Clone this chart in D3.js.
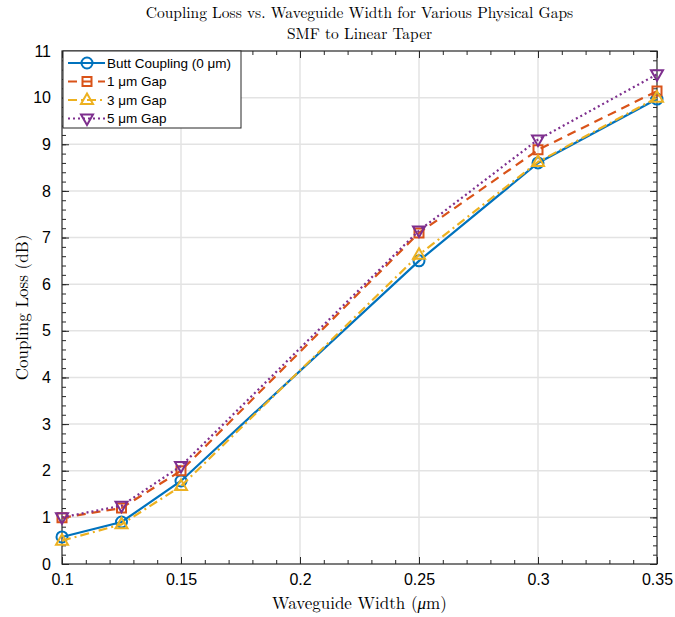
<!DOCTYPE html>
<html>
<head>
<meta charset="utf-8">
<script src="https://cdn.jsdelivr.net/npm/d3@7"></script>
<style>
body { margin: 0; background: #fff; }
svg text { fill: #000; }
</style>
</head>
<body>
<div id="canvas"></div>
<script>
// data
var widths = [0.1, 0.125, 0.15, 0.25, 0.3, 0.35];
var buttLoss = [0.58, 0.90, 1.78, 6.50, 8.60, 9.97];
var gap1Loss = [0.99, 1.20, 2.00, 7.10, 8.88, 10.14];
var gap3Loss = [0.50, 0.85, 1.67, 6.63, 8.62, 10.00];
var gap5Loss = [1.00, 1.25, 2.10, 7.15, 9.10, 10.50];
var seriesNames = ["Butt Coupling (0 \u03bcm)", "1 \u03bcm Gap", "3 \u03bcm Gap", "5 \u03bcm Gap"];
var xTicks = [0.1, 0.15, 0.2, 0.25, 0.3, 0.35];
var yTicks = [0, 1, 2, 3, 4, 5, 6, 7, 8, 9, 10, 11];

var series = [
	{ name: seriesNames[0], values: buttLoss, color: "#0072BD", dash: null, marker: "circle" },
	{ name: seriesNames[1], values: gap1Loss, color: "#D95319", dash: "9,6", marker: "square" },
	{ name: seriesNames[2], values: gap3Loss, color: "#EDB120", dash: "9,4,2,4", marker: "triangle" },
	{ name: seriesNames[3], values: gap5Loss, color: "#7E2F8E", dash: "2,3", marker: "triangleDown" }
];

var W = 675, H = 617;
var margin = {top: 51, right: 18, bottom: 53, left: 62};
var width = W - margin.left - margin.right,
	height = H - margin.top - margin.bottom;

var svg = d3.select("#canvas").append("svg")
	.attr("width", W)
	.attr("height", H),
	g = svg.append("g")
	.attr("transform", "translate(" + margin.left + "," + margin.top + ")");

var x = d3.scaleLinear().domain([0.1, 0.35]).range([0, width]);
var y = d3.scaleLinear().domain([0, 11]).range([height, 0]);

// grid
g.append("g").selectAll("line").data(xTicks.slice(1, -1)).enter().append("line")
	.attr("x1", function(d) { return x(d); }).attr("x2", function(d) { return x(d); })
	.attr("y1", 0).attr("y2", height)
	.attr("stroke", "#e3e3e3").attr("stroke-width", 1.5);
g.append("g").selectAll("line").data(yTicks.slice(1, -1)).enter().append("line")
	.attr("y1", function(d) { return y(d); }).attr("y2", function(d) { return y(d); })
	.attr("x1", 0).attr("x2", width)
	.attr("stroke", "#e3e3e3").attr("stroke-width", 1.5);

// axes with inward ticks
var xMinor = d3.range(0.1, 0.3501, 0.01);
var yMinor = d3.range(0, 11.001, 0.2);

function addAxis(axis, tr, labels) {
	var a = g.append("g").attr("transform", tr).call(axis);
	a.select(".domain").remove();
	a.selectAll("line").attr("stroke", "#262626").attr("stroke-width", 1);
	a.selectAll("text").style("font-family", "'Liberation Sans', Arial, sans-serif")
		.style("font-size", "16px").attr("fill", "#262626");
	if (!labels) a.selectAll("text").remove();
	return a;
}

addAxis(d3.axisBottom(x).tickValues(xMinor).tickSize(-4).tickFormat(""), "translate(0," + height + ")", false);
addAxis(d3.axisTop(x).tickValues(xMinor).tickSize(-4).tickFormat(""), "translate(0,0)", false);
addAxis(d3.axisLeft(y).tickValues(yMinor).tickSize(-4).tickFormat(""), "translate(0,0)", false);
addAxis(d3.axisRight(y).tickValues(yMinor).tickSize(-4).tickFormat(""), "translate(" + width + ",0)", false);

addAxis(d3.axisBottom(x).tickValues(xTicks).tickSize(-7).tickPadding(10)
	.tickFormat(function(d) { return String(+d.toFixed(2)); }), "translate(0," + height + ")", true);
addAxis(d3.axisTop(x).tickValues(xTicks).tickSize(-7).tickFormat(""), "translate(0,0)", false);
addAxis(d3.axisLeft(y).tickValues(yTicks).tickSize(-7).tickPadding(11).tickFormat(d3.format("d")), "translate(0,0)", true);
addAxis(d3.axisRight(y).tickValues(yTicks).tickSize(-7).tickFormat(""), "translate(" + width + ",0)", false);

g.append("rect").attr("width", width).attr("height", height)
	.attr("fill", "none").attr("stroke", "#262626").attr("stroke-width", 1.2);

// lines
var line = d3.line()
	.x(function(d, i) { return x(widths[i]); })
	.y(function(d) { return y(d); });

function markerPath(type) {
	if (type === "square") return "M-4.5,-4.5H4.5V4.5H-4.5Z";
	if (type === "triangle") return "M0,-6.5L6,4L-6,4Z";
	if (type === "triangleDown") return "M0,6.5L6,-4L-6,-4Z";
	return null;
}

function drawMarker(sel, s) {
	if (s.marker === "circle") {
		sel.append("circle").attr("r", 5.5)
			.attr("fill", "none").attr("stroke", s.color).attr("stroke-width", 2);
	} else {
		sel.append("path").attr("d", markerPath(s.marker))
			.attr("fill", "none").attr("stroke", s.color).attr("stroke-width", 2);
	}
}

series.forEach(function(s) {
	g.append("path")
		.datum(s.values)
		.attr("d", line)
		.attr("fill", "none")
		.attr("stroke", s.color)
		.attr("stroke-width", 2.2)
		.attr("stroke-dasharray", s.dash);
	s.values.forEach(function(v, i) {
		var m = g.append("g").attr("transform", "translate(" + x(widths[i]) + "," + y(v) + ")");
		drawMarker(m, s);
	});
});

// legend
var lg = g.append("g").attr("transform", "translate(1,0)");
lg.append("rect").attr("width", 178).attr("height", 77)
	.attr("fill", "#fff").attr("stroke", "#262626").attr("stroke-width", 1);
series.forEach(function(s, i) {
	var row = lg.append("g").attr("transform", "translate(0," + (12 + i * 18.5) + ")");
	row.append("line").attr("x1", 5).attr("x2", 42).attr("y1", 0).attr("y2", 0)
		.attr("stroke", s.color).attr("stroke-width", 2.2).attr("stroke-dasharray", s.dash);
	var m = row.append("g").attr("transform", "translate(24,0)");
	drawMarker(m, s);
	row.append("text").attr("x", 44).attr("dy", "0.35em")
		.style("font-family", "'Liberation Sans', Arial, sans-serif").style("font-size", "13.5px")
		.text(s.name);
});

// titles
var serif = "'Latin Modern Roman', 'CMU Serif', 'Liberation Serif', 'DejaVu Serif', serif";
svg.append("text").attr("x", margin.left + width / 2).attr("y", 18)
	.attr("text-anchor", "middle").style("font-family", serif).style("font-size", "15.5px")
	.text("Coupling Loss vs. Waveguide Width for Various Physical Gaps");
svg.append("text").attr("x", margin.left + width / 2).attr("y", 39)
	.attr("text-anchor", "middle").style("font-family", serif).style("font-size", "15.5px")
	.text("SMF to Linear Taper");
var xl = svg.append("text").attr("x", margin.left + width / 2).attr("y", 609)
	.attr("text-anchor", "middle").style("font-family", serif).style("font-size", "17px");
xl.append("tspan").text("Waveguide Width (");
xl.append("tspan").style("font-style", "italic").text("\u03bc");
xl.append("tspan").text("m)");
svg.append("text").attr("transform", "translate(28," + (margin.top + height / 2) + ") rotate(-90)")
	.attr("text-anchor", "middle").style("font-family", serif).style("font-size", "17px")
	.text("Coupling Loss (dB)");
</script>
</body>
</html>
